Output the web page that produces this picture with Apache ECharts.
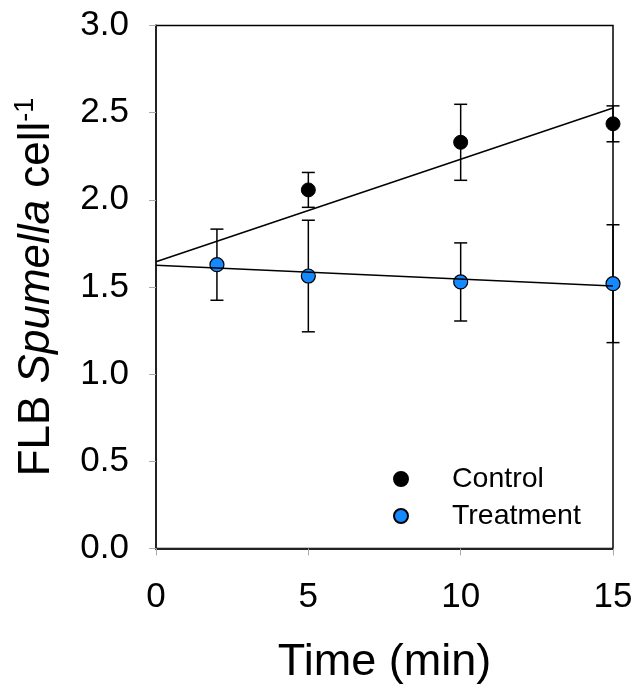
<!DOCTYPE html>
<html>
<head>
<meta charset="utf-8">
<script src="https://cdn.jsdelivr.net/npm/echarts@6/dist/echarts.min.js"></script>
<style>
html,body{margin:0;padding:0;background:#fff;}
#chart{width:642px;height:692px;}
</style>
</head>
<body>
<div id="chart"></div>
<script>
// ---- data ----
var controlX = [5, 10, 15];
var controlY = [2.057, 2.330, 2.436];
var controlErr = [0.100, 0.218, 0.103];

var treatX = [2, 5, 10, 15];
var treatY = [1.628, 1.563, 1.529, 1.519];
var treatErr = [0.204, 0.320, 0.224, 0.338];

var controlFitX = [0, 15];
var controlFitY = [1.645, 2.527];
var treatFitX = [0, 15];
var treatFitY = [1.625, 1.506];

var xTicks = [0, 5, 10, 15];
var yTicks = [0, 0.5, 1.0, 1.5, 2.0, 2.5, 3.0];

var FONT = '"Liberation Sans", Arial, sans-serif';

function pts(xs, ys) { return xs.map(function (x, i) { return [x, ys[i]]; }); }
function errs(xs, ys, es) { return xs.map(function (x, i) { return [x, ys[i] - es[i], ys[i] + es[i]]; }); }

function errorRender(params, api) {
  var x = api.value(0);
  var lo = api.coord([x, api.value(1)]);
  var hi = api.coord([x, api.value(2)]);
  var hw = 6.5;
  var st = { stroke: '#000', lineWidth: 1.5, fill: null };
  return {
    type: 'group',
    children: [
      { type: 'line', shape: { x1: lo[0], y1: lo[1], x2: hi[0], y2: hi[1] }, style: st },
      { type: 'line', shape: { x1: lo[0] - hw, y1: lo[1], x2: lo[0] + hw, y2: lo[1] }, style: st },
      { type: 'line', shape: { x1: hi[0] - hw, y1: hi[1], x2: hi[0] + hw, y2: hi[1] }, style: st }
    ]
  };
}

var chart = echarts.init(document.getElementById('chart'), null, { renderer: 'canvas' });

var option = {
  animation: false,
  backgroundColor: '#fff',
  textStyle: { fontFamily: FONT },
  grid: {
    left: 156, right: 29, top: 25.5, bottom: 143.5,
    show: true, borderColor: '#000', borderWidth: 1.5, backgroundColor: 'transparent'
  },
  legend: {
    orient: 'vertical',
    left: 388, top: 459,
    itemWidth: 14, itemHeight: 14,
    itemGap: 7,
    icon: 'circle',
    textStyle: { fontFamily: FONT, fontSize: 28.5, color: '#000', lineHeight: 30, padding: [0, 0, 0, 39] },
    data: ['Control', 'Treatment']
  },
  xAxis: {
    type: 'value', min: 0, max: 15, interval: 5,
    name: 'Time (min)', nameLocation: 'middle', nameGap: 92,
    nameTextStyle: { fontFamily: FONT, fontSize: 45, color: '#000' },
    axisLine: { show: true, onZero: false, lineStyle: { color: '#222', width: 2 } },
    axisTick: { show: true, inside: false, length: 7, lineStyle: { color: '#aaa', width: 1 } },
    axisLabel: {
      fontFamily: FONT, fontSize: 35, color: '#000', margin: 31,
      formatter: function (v) { return xTicks.indexOf(v) >= 0 ? String(v) : ''; }
    },
    splitLine: { show: false }
  },
  yAxis: {
    type: 'value', min: 0, max: 3, interval: 0.5,
    name: '{n|FLB }{i|Spumella}{n| cell}{s|-1}',
    nameLocation: 'middle', nameGap: 94,
    nameTextStyle: {
      fontFamily: FONT, fontSize: 44, color: '#000',
      rich: {
        n: { fontFamily: FONT, fontSize: 44, color: '#000', lineHeight: 50 },
        i: { fontFamily: FONT, fontSize: 44, color: '#000', fontStyle: 'italic', lineHeight: 50 },
        s: { fontFamily: FONT, fontSize: 27, color: '#000', verticalAlign: 'top', lineHeight: 50, padding: [0, 0, 18, 0] }
      }
    },
    axisLine: { show: true, onZero: false, lineStyle: { color: '#222', width: 2 } },
    axisTick: { show: true, inside: false, length: 7, lineStyle: { color: '#aaa', width: 1 } },
    axisLabel: {
      fontFamily: FONT, fontSize: 35, color: '#000', margin: 27,
      formatter: function (v) { return v.toFixed(1); }
    },
    splitLine: { show: false }
  },
  series: [
    {
      name: 'ControlErr', type: 'custom', renderItem: errorRender,
      data: errs(controlX, controlY, controlErr), z: 2, silent: true,
      encode: { x: 0, y: [1, 2] }
    },
    {
      name: 'TreatmentErr', type: 'custom', renderItem: errorRender,
      data: errs(treatX, treatY, treatErr), z: 2, silent: true,
      encode: { x: 0, y: [1, 2] }
    },
    {
      name: 'Control', type: 'scatter', symbol: 'circle', symbolSize: 14,
      itemStyle: { color: '#000', borderColor: '#000', borderWidth: 1, opacity: 1 },
      data: pts(controlX, controlY), z: 3, clip: false
    },
    {
      name: 'Treatment', type: 'scatter', symbol: 'circle', symbolSize: 14,
      itemStyle: { color: '#1589ff', borderColor: '#000', borderWidth: 1.2, opacity: 1 },
      data: pts(treatX, treatY), z: 3, clip: false
    },
    {
      name: 'ControlFit', type: 'line', showSymbol: false, symbol: 'none',
      lineStyle: { color: '#000', width: 1.5 },
      data: pts(controlFitX, controlFitY), z: 4, silent: true
    },
    {
      name: 'TreatmentFit', type: 'line', showSymbol: false, symbol: 'none',
      lineStyle: { color: '#000', width: 1.5 },
      data: pts(treatFitX, treatFitY), z: 4, silent: true
    }
  ]
};
chart.setOption(option);
</script>
</body>
</html>
